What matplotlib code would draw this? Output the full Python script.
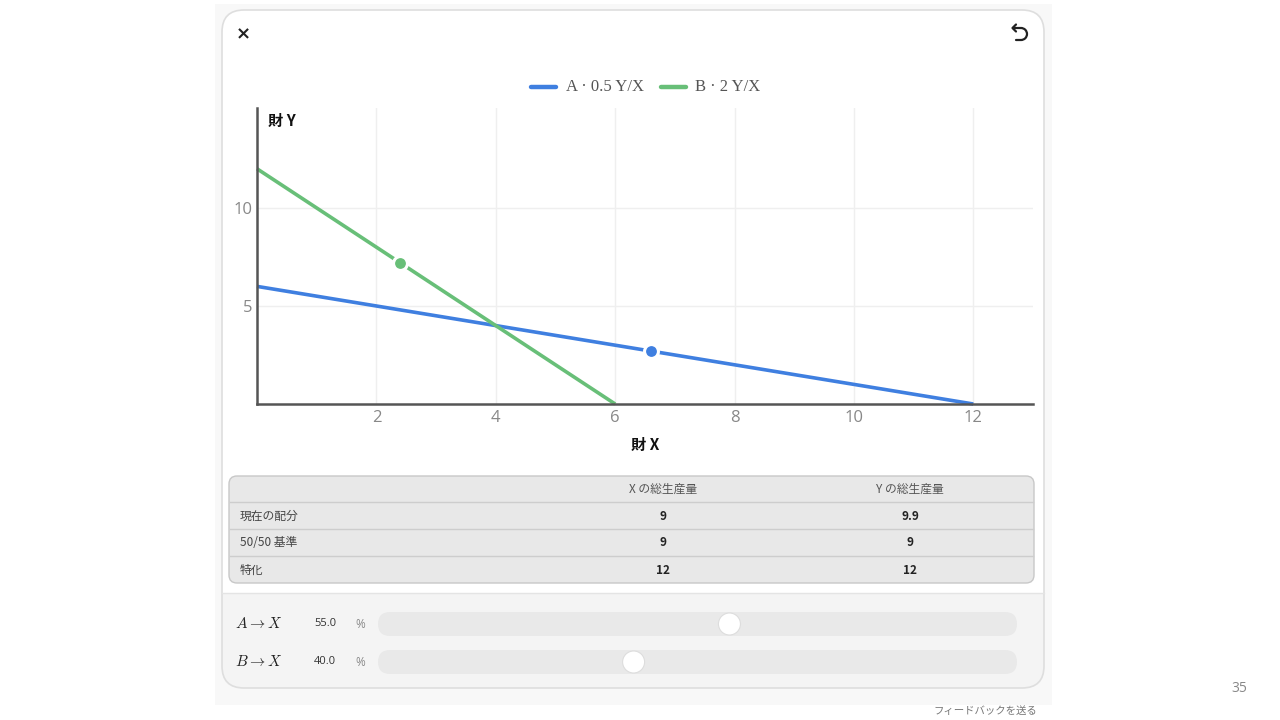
import matplotlib
matplotlib.use("Agg")
import matplotlib.pyplot as plt
from matplotlib.patches import FancyBboxPatch, Rectangle, Circle, Arc
import numpy as np

plt.rcParams["font.family"] = ["Noto Sans CJK JP", "DejaVu Sans"]
plt.rcParams["mathtext.fontset"] = "cm"

# production possibility lines: (X intercept, Y intercept)
person_names = ["A", "B"]
x_max = [12, 6]
y_max = [6, 12]
legend_labels = ["A · 0.5 Y/X", "B · 2 Y/X"]
share_to_x = [55.0, 40.0]  # percent of each person's time on X
colors = ["#3f7fe0", "#68bf78"]

x_ticks = [2, 4, 6, 8, 10, 12]
y_ticks = [5, 10]

table_header = ["", "X の総生産量", "Y の総生産量"]
table_rows = ["現在の配分", "50/50 基準", "特化"]
total_x = ["9", "9", "12"]
total_y = ["9.9", "9", "12"]

W, H = 1280, 720
fig = plt.figure(figsize=(W / 100, H / 100), dpi=100)
fig.patch.set_facecolor("white")

# pixel overlay for the card ui
ui = fig.add_axes([0, 0, 1, 1], zorder=0)
ui.set_xlim(0, W)
ui.set_ylim(H, 0)
ui.axis("off")

ui.add_patch(Rectangle((215, 4), 837, 701, facecolor="#f8f8f8", edgecolor="none"))
ui.add_patch(FancyBboxPatch((222, 10), 822, 678, boxstyle="round,pad=0,rounding_size=22",
                            facecolor="white", edgecolor="none"))
# slider area
ui.add_patch(FancyBboxPatch((222, 593), 822, 95, boxstyle="round,pad=0,rounding_size=22",
                            facecolor="#f4f4f4", edgecolor="none"))
ui.add_patch(Rectangle((222, 593), 822, 30, facecolor="#f4f4f4", edgecolor="none"))
ui.plot([222, 1044], [593, 593], color="#e4e4e4", lw=1)
ui.add_patch(FancyBboxPatch((222, 10), 822, 678, boxstyle="round,pad=0,rounding_size=22",
                            facecolor="none", edgecolor="#dedede", lw=1.2))

# close and reset icons
ui.text(243, 34, "×", fontsize=13, fontweight="bold", ha="center", va="center", color="#222222",
        family="DejaVu Sans")
ic = "#222222"
ui.plot([1016, 1012.5, 1016], [24.5, 28, 31.5], color=ic, lw=1.6, solid_capstyle="round")
ui.plot([1012.5, 1021], [28, 28], color=ic, lw=1.6, solid_capstyle="round")
ui.add_patch(Arc((1021, 34), 12, 12, theta1=-90, theta2=90, color=ic, lw=1.6))
ui.plot([1021, 1015.5], [40, 40], color=ic, lw=1.6, solid_capstyle="round")

# legend
lx = [531, 661]
tx_off = [35, 34]
for i in range(2):
    ui.plot([lx[i], lx[i] + 25], [87, 87], color=colors[i], lw=3.2, solid_capstyle="round")
    ui.text(lx[i] + tx_off[i], 87, legend_labels[i], fontsize=12, ha="left", va="center",
            color="#555555", family="Liberation Serif")

# chart
x0, x1, y0, y1 = 257, 1033, 108, 404
ax = fig.add_axes([x0 / W, 1 - y1 / H, (x1 - x0) / W, (y1 - y0) / H], zorder=2)
ax.set_facecolor("none")
ax.set_xlim(0, 13)
ax.set_ylim(0, 15.1)
ax.set_xticks(x_ticks)
ax.set_yticks(y_ticks)
ax.grid(True, color="#efefef", lw=1)
ax.set_axisbelow(True)
for s in ["top", "right"]:
    ax.spines[s].set_visible(False)
for s in ["left", "bottom"]:
    ax.spines[s].set_color("#555555")
    ax.spines[s].set_linewidth(1.8)
ax.tick_params(length=0, labelsize=12, labelcolor="#888888")
ax.tick_params(axis="x", pad=4)
ax.tick_params(axis="y", pad=3)
for lab in ax.get_xticklabels() + ax.get_yticklabels():
    lab.set_family("Open Sans")

for i in range(2):
    ax.plot([0, x_max[i]], [y_max[i], 0], color=colors[i], lw=2.6, solid_capstyle="butt",
            clip_on=False)
    px = share_to_x[i] / 100 * x_max[i]
    py = (1 - share_to_x[i] / 100) * y_max[i]
    ax.plot([px], [py], marker="o", ms=10, color=colors[i], mec="white", mew=2.2,
            clip_on=False, zorder=5)

ax.set_xlabel("財 X", fontsize=11, fontweight="bold", color="#111111", labelpad=8)
ax.text(0.014, 0.955, "財 Y", transform=ax.transAxes, fontsize=11, fontweight="bold",
        color="#111111", ha="left", va="center")

# table
ui.add_patch(FancyBboxPatch((229, 476), 805, 107, boxstyle="round,pad=0,rounding_size=8",
                            facecolor="#e8e8e8", edgecolor="#c8c8c8", lw=1))
for yy in [502, 529, 556]:
    ui.plot([230, 1033], [yy, yy], color="#cdcdcd", lw=1)
col_x = [240, 663, 910]
ui.text(col_x[1], 489, table_header[1], fontsize=8.5, ha="center", va="center", color="#555555")
ui.text(col_x[2], 489, table_header[2], fontsize=8.5, ha="center", va="center", color="#555555")
row_y = [516, 543, 570]
for r in range(len(table_rows)):
    ui.text(col_x[0], row_y[r], table_rows[r], fontsize=8.5, ha="left", va="center", color="#444444")
    ui.text(col_x[1], row_y[r], total_x[r], fontsize=8.5, ha="center", va="center",
            color="#222222", fontweight="bold")
    ui.text(col_x[2], row_y[r], total_y[r], fontsize=8.5, ha="center", va="center",
            color="#222222", fontweight="bold")

# sliders
track_l, track_r = 378, 1017
slider_y = [624, 662]
for i in range(2):
    yy = slider_y[i]
    ui.text(235, yy, f"${person_names[i]} \\rightarrow X$", fontsize=11, ha="left", va="center",
            color="#222222")
    ui.text(314, yy, f"{share_to_x[i]:.1f}", fontsize=8, ha="left", va="center", color="#333333",
            family="Open Sans")
    ui.text(360, yy, "%", fontsize=8.5, ha="center", va="center", color="#888888", family="Open Sans")
    ui.add_patch(FancyBboxPatch((track_l, yy - 12), track_r - track_l, 24,
                                boxstyle="round,pad=0,rounding_size=12",
                                facecolor="#e9e9e9", edgecolor="none"))
    tx = track_l + share_to_x[i] / 100 * (track_r - track_l)
    ui.add_patch(Circle((tx, yy), 11, facecolor="white", edgecolor="#dddddd", lw=0.8))

ui.text(985, 711, "フィードバックを送る", fontsize=7.5, ha="center", va="center", color="#777777")
ui.text(1239, 688, "35", fontsize=10, ha="center", va="center", color="#888888", family="Open Sans")

fig.savefig("out.png", dpi=100)
